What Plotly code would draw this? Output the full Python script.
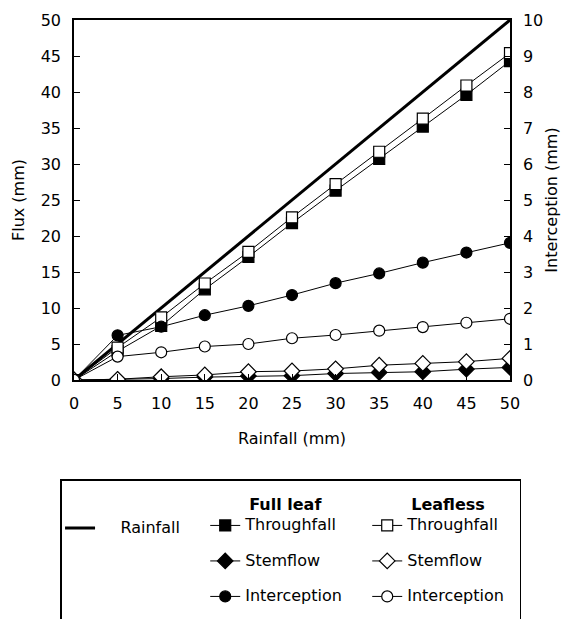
import plotly.graph_objects as go

rainfall = [0, 5, 10, 15, 20, 25, 30, 35, 40, 45, 50]
full_throughfall = [0, 4.0, 7.5, 12.6, 17.1, 21.8, 26.3, 30.7, 35.2, 39.6, 44.3]
leafless_throughfall = [0, 4.5, 8.7, 13.4, 17.8, 22.6, 27.2, 31.7, 36.3, 40.9, 45.4]
full_stemflow = [0, 0.05, 0.2, 0.4, 0.55, 0.6, 0.9, 1.05, 1.15, 1.5, 1.75]
leafless_stemflow = [0, 0.1, 0.45, 0.7, 1.15, 1.25, 1.55, 2.05, 2.3, 2.55, 3.0]
full_interception = [0, 1.24, 1.48, 1.8, 2.06, 2.36, 2.69, 2.96, 3.26, 3.54, 3.81]
leafless_interception = [0, 0.65, 0.77, 0.93, 1.0, 1.16, 1.25, 1.37, 1.47, 1.59, 1.70]

FONT = "DejaVu Sans"
LS = 12.5  # legend line-height base size
NB = "\u00a0"

def nm(s, lead=0, trail=0):
    return "<span style='font-size:16px'>" + NB * lead + s + NB * trail + "</span><br> "

fig = go.Figure()
fig.add_trace(go.Scatter(x=rainfall, y=rainfall, mode="lines", name=nm("Rainfall", 4, 4),
                         line=dict(color="black", width=3), legendgroup="r",
                         legendgrouptitle=dict(text=NB)))

SIZES = {"square": 11, "diamond": 12, "circle": 11}

def add(y, name, symbol, fill, group, title, yaxis="y", trail=0):
    fig.add_trace(go.Scatter(
        x=rainfall, y=y, mode="lines+markers", name=nm(name, 0, trail), yaxis=yaxis,
        line=dict(color="black", width=1),
        marker=dict(symbol=symbol, size=SIZES[symbol], color=fill, line=dict(color="black", width=1.2)),
        legendgroup=group,
        legendgrouptitle=dict(text=title, font=dict(family=FONT, size=16, color="black", weight="bold"))))

t1 = NB * 7 + "Full leaf"
t2 = NB * 7 + "Leafless"
add(full_throughfall, "Throughfall", "square", "black", "fl", t1, trail=4)
add(full_stemflow, "Stemflow", "diamond", "black", "fl", t1, trail=4)
add(full_interception, "Interception", "circle", "black", "fl", t1, "y2", trail=4)
add(leafless_throughfall, "Throughfall", "square", "white", "ll", t2, trail=2)
add(leafless_stemflow, "Stemflow", "diamond", "white", "ll", t2, trail=2)
add(leafless_interception, "Interception", "circle", "white", "ll", t2, "y2", trail=2)

axis_common = dict(showgrid=False, zeroline=False, showline=True, linecolor="black", linewidth=1.5,
                   ticks="inside", ticklen=6, tickcolor="black", tickwidth=1.2, automargin=False,
                   tickfont=dict(family=FONT, size=16, color="black"))

fig.update_layout(
    width=561, height=619,
    margin=dict(l=74, r=51, t=20, b=239, autoexpand=False),
    paper_bgcolor="white", plot_bgcolor="white",
    font=dict(family=FONT, size=16, color="black"),
    xaxis=dict(range=[0, 50], dtick=5, mirror=True, ticklabelstandoff=8,
               title=dict(text="Rainfall (mm)", font=dict(family=FONT, size=16), standoff=21),
               **axis_common),
    yaxis=dict(range=[0, 50], dtick=5, ticklabelstandoff=8,
               title=dict(text="Flux (mm)", font=dict(family=FONT, size=16), standoff=12),
               **axis_common),
    yaxis2=dict(range=[0, 10], dtick=1, overlaying="y", side="right", ticklabelstandoff=8,
                title=dict(text="Interception (mm)", font=dict(family=FONT, size=16), standoff=3),
                **axis_common),
    showlegend=True,
    legend=dict(orientation="h", traceorder="grouped", x=-0.032, xanchor="left",
                y=-0.275, yanchor="top",
                title=dict(text=NB, font=dict(family=FONT, size=5), side="top"),
                bordercolor="black", borderwidth=1.5,
                bgcolor="white", valign="top", tracegroupgap=20,
                font=dict(family=FONT, size=LS, color="black")),
)

fig.write_html("out.html")
